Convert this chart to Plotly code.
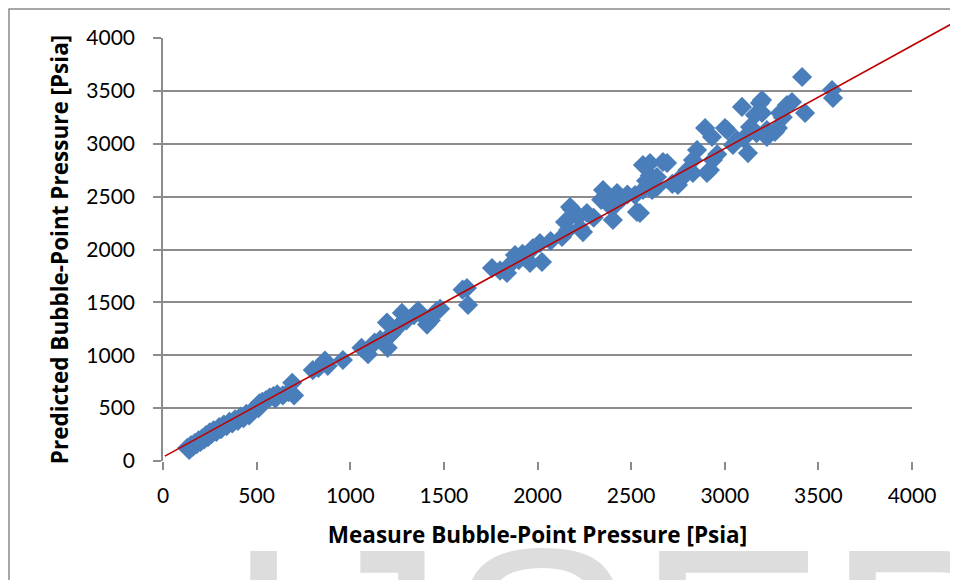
import plotly.graph_objects as go

# ---- data ----
measured = [130,140,150,160,170,180,190,200,210,220,230,240,250,260,270,285,300,310,325,340,
            355,370,385,400,415,430,445,460,480,500,515,530,550,570,590,610,640,670,690,700,600,510,
            800,830,865,880,961,1060,1095,1130,1160,1200,1196,1220,1250,1276,1266,1300,1340,1362,1410,1399,1440,1463,1480,1430,
            1600,1623,1629,1757,1800,1837,1880,1900,1960,1976,2024,2013,1850,1920,
            2070,2131,2147,2163,2174,2184,2216,2227,2243,2264,2300,2350,2340,2371,2398,2403,2425,2450,2480,
            2521,2531,2547,2563,2563,2580,2600,2612,2638,2638,2670,2692,2601,2720,2750,2761,2777,2800,2830,2830,2852,2895,2905,2921,2932,2937,2960,
            3001,3012,3044,3065,3092,3124,3135,3161,3188,3199,3199,3225,3225,3268,3284,3295,3310,3332,3359,3413,3429,3573,3578,3100,3170]
predicted = [125,105,150,135,170,160,195,180,215,205,245,225,270,255,290,275,320,300,345,330,
             370,355,395,380,420,405,445,430,480,515,545,560,575,600,615,630,620,650,740,620,590,500,
             860,880,950,900,955,1070,1010,1120,1145,1070,1310,1200,1260,1400,1290,1330,1380,1420,1290,1350,1380,1420,1440,1330,
             1620,1636,1475,1825,1800,1778,1948,1900,1872,2014,1882,2061,1850,1960,
             2080,2118,2260,2184,2402,2380,2307,2203,2165,2345,2300,2563,2470,2468,2392,2279,2534,2480,2520,
             2515,2355,2345,2563,2799,2650,2700,2563,2686,2591,2827,2818,2818,2620,2610,2657,2700,2750,2846,2723,2941,3149,2723,2752,3064,2846,2900,
             3149,3130,2988,3035,3348,2912,3158,3272,3385,3414,3291,3130,3064,3111,3150,3291,3250,3366,3395,3631,3291,3508,3433,3050,3100]

trend_x = [10, 4400]
trend_y = [46, 4317]

tick_vals = [0, 500, 1000, 1500, 2000, 2500, 3000, 3500, 4000]
tick_text = [str(v) for v in tick_vals]

x_title = "Measure Bubble-Point Pressure [Psia]"
y_title = "Predicted Bubble-Point Pressure [Psia]"
watermark = "IJSER"

# ---- layout geometry (pixels; page body adds an 8px offset) ----
W, H = 958, 580
OFF = 8
px_x0, px_x1 = 163 - OFF, 912 - OFF      # x=0 and x=4000
px_y0, px_y1 = 461 - OFF, 38 - OFF       # y=0 and y=4000
sx = (px_x1 - px_x0) / 4000.0
sy = (px_y0 - px_y1) / 4000.0

grid_col = "#8c8c8c"
font_fam = "Lato, 'Open Sans', sans-serif"
title_fam = "'Open Sans', Lato, sans-serif"

fig = go.Figure()
fig.add_trace(go.Scatter(
    x=measured, y=predicted, mode="markers",
    marker=dict(symbol="diamond", size=15.5, color="#4A7EBB", line=dict(width=0)),
    xaxis="x", yaxis="y", showlegend=False, cliponaxis=False))
fig.add_trace(go.Scatter(
    x=trend_x, y=trend_y, mode="lines",
    line=dict(color="#C00000", width=1.6),
    xaxis="x2", yaxis="y2", showlegend=False))

fig.update_layout(
    width=W, height=H,
    margin=dict(l=0, r=0, t=0, b=0),
    paper_bgcolor="white", plot_bgcolor="rgba(0,0,0,0)",
    font=dict(family=font_fam, color="black"),
    xaxis=dict(domain=[px_x0 / W, px_x1 / W], range=[0, 4000], anchor="y",
               tickvals=tick_vals, ticktext=tick_text, showgrid=False, zeroline=False,
               showline=False, ticks="outside", ticklen=8, tickcolor=grid_col, tickwidth=1.5,
               tickfont=dict(size=21), ticklabelstandoff=8, automargin=False,
               title=dict(text=x_title, font=dict(family=title_fam, size=22.5, weight="bold"), standoff=21)),
    yaxis=dict(domain=[(H - px_y0) / H, (H - px_y1) / H], range=[0, 4000], anchor="x",
               tickvals=tick_vals, ticktext=tick_text, showgrid=True, gridcolor=grid_col, gridwidth=1.5,
               zeroline=False, showline=True, linecolor=grid_col, linewidth=1.5,
               ticks="outside", ticklen=8, tickcolor=grid_col, tickwidth=1.5,
               tickfont=dict(size=21), ticklabelstandoff=14, automargin=False,
               title=dict(text=y_title, font=dict(family=title_fam, size=22.5, weight="bold"), standoff=11)),
    xaxis2=dict(domain=[0, 1], range=[-px_x0 / sx, (W - px_x0) / sx], anchor="y2", visible=False),
    yaxis2=dict(domain=[0, 1], range=[-(H - px_y0) / sy, px_y0 / sy], anchor="x2", visible=False),
    shapes=[dict(type="rect", xref="paper", yref="paper", x0=1 / W, x1=1.2, y0=-0.2, y1=(H - 1) / H,
                 line=dict(color="#8a8a8a", width=1.5), fillcolor="rgba(0,0,0,0)", layer="below")],
    annotations=[dict(text=watermark, xref="paper", yref="paper", x=(222 - OFF) / W, y=(H - 479) / H,
                      xanchor="left", yanchor="top", showarrow=False,
                      font=dict(family="Liberation Sans", size=285, color="#dddddd"))],
)

fig.write_html("out.html")
